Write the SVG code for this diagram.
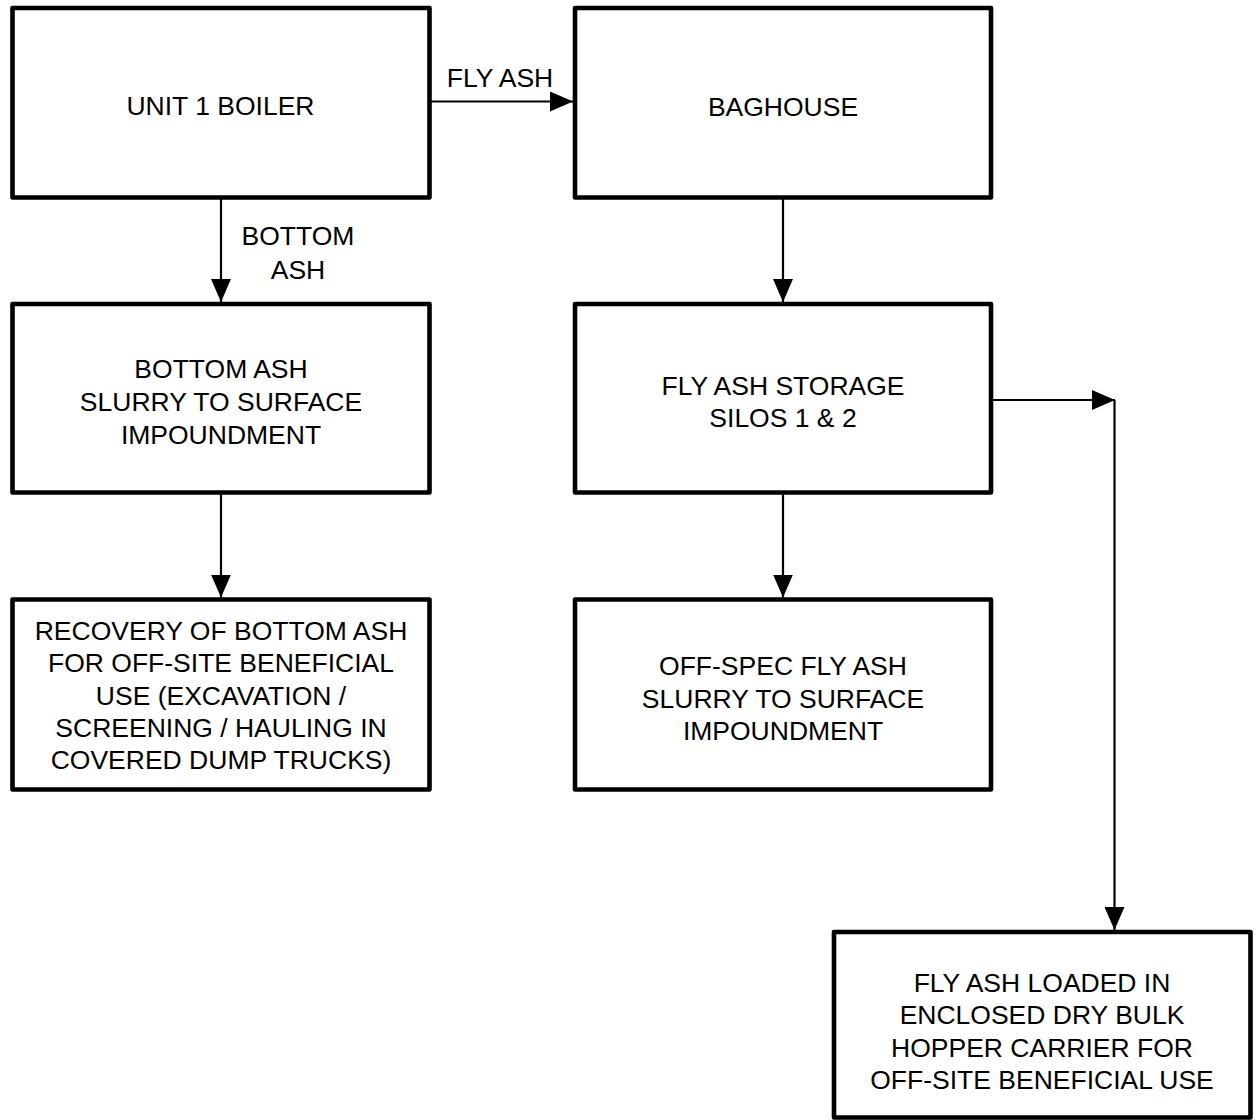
<svg xmlns="http://www.w3.org/2000/svg" width="1257" height="1120" viewBox="0 0 1257 1120">
<style>
.box{fill:#fff;stroke:#000;stroke-width:4.6;stroke-linejoin:round}
.t{font-family:"Liberation Sans",Arial,sans-serif;font-size:26.5px;fill:#000;text-anchor:middle}
.c{fill:none;stroke:#000;stroke-width:2.2}
</style>
<defs>
<marker id="ah" markerUnits="userSpaceOnUse" markerWidth="24" markerHeight="20" refX="23" refY="10" orient="auto">
<path d="M0,0 L23,10 L0,20 Z" fill="#000"/>
</marker>
</defs>
<rect width="1257" height="1120" fill="#fff"/>
<g id="connectors">
<line class="c" x1="431" y1="101.5" x2="573" y2="101.5" marker-end="url(#ah)"/>
<line class="c" x1="221" y1="199" x2="221" y2="302" marker-end="url(#ah)"/>
<line class="c" x1="783" y1="199" x2="783" y2="302" marker-end="url(#ah)"/>
<line class="c" x1="221" y1="494" x2="221" y2="597.5" marker-end="url(#ah)"/>
<line class="c" x1="783" y1="494" x2="783" y2="597.5" marker-end="url(#ah)"/>
<line class="c" x1="993" y1="400" x2="1115" y2="400" marker-end="url(#ah)"/>
<line class="c" x1="1114.5" y1="400" x2="1114.5" y2="930" marker-end="url(#ah)"/>
<text class="t" x="500" y="86.5">FLY ASH</text>
<text class="t" x="298" y="245">BOTTOM</text>
<text class="t" x="298" y="279">ASH</text>
</g>
<g id="unit1-boiler">
<rect class="box" x="12.5" y="8" width="417" height="189.5"/>
<text class="t" x="220.5" y="115">UNIT 1 BOILER</text>
</g>
<g id="baghouse">
<rect class="box" x="575" y="8" width="416" height="189.5"/>
<text class="t" x="783" y="116">BAGHOUSE</text>
</g>
<g id="bottom-ash-slurry">
<rect class="box" x="12.5" y="304" width="417" height="188.5"/>
<text class="t" x="221" y="378.3">BOTTOM ASH</text>
<text class="t" x="221" y="411">SLURRY TO SURFACE</text>
<text class="t" x="221" y="444">IMPOUNDMENT</text>
</g>
<g id="fly-ash-storage">
<rect class="box" x="575" y="304" width="416" height="188.5"/>
<text class="t" x="783" y="395">FLY ASH STORAGE</text>
<text class="t" x="783" y="427.3">SILOS 1 &amp; 2</text>
</g>
<g id="recovery-bottom-ash">
<rect class="box" x="12.5" y="599.5" width="417" height="190"/>
<text class="t" x="221" y="640">RECOVERY OF BOTTOM ASH</text>
<text class="t" x="221" y="672.3">FOR OFF-SITE BENEFICIAL</text>
<text class="t" x="221" y="704.6">USE (EXCAVATION /</text>
<text class="t" x="221" y="736.8">SCREENING / HAULING IN</text>
<text class="t" x="221" y="769">COVERED DUMP TRUCKS)</text>
</g>
<g id="off-spec-fly-ash">
<rect class="box" x="575" y="599.5" width="416" height="190"/>
<text class="t" x="783" y="675">OFF-SPEC FLY ASH</text>
<text class="t" x="783" y="707.6">SLURRY TO SURFACE</text>
<text class="t" x="783" y="739.5">IMPOUNDMENT</text>
</g>
<g id="fly-ash-loaded">
<rect class="box" x="834" y="932" width="416.5" height="185.5"/>
<text class="t" x="1042" y="991.7">FLY ASH LOADED IN</text>
<text class="t" x="1042" y="1024">ENCLOSED DRY BULK</text>
<text class="t" x="1042" y="1056.5">HOPPER CARRIER FOR</text>
<text class="t" x="1042" y="1088.5">OFF-SITE BENEFICIAL USE</text>
</g>
</svg>
